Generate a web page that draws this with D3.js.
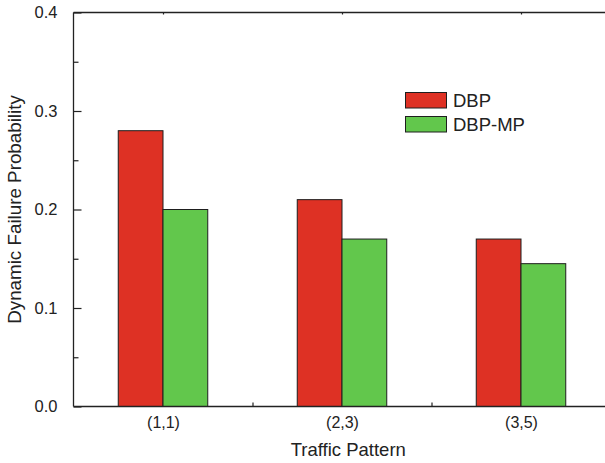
<!DOCTYPE html>
<html>
<head>
<meta charset="utf-8">
<script src="https://cdn.jsdelivr.net/npm/d3@7/dist/d3.min.js"></script>
<style>
  html, body { margin: 0; padding: 0; background: #fff; }
  svg { display: block; font-family: "Liberation Sans", Arial, sans-serif; }
</style>
</head>
<body>
<svg id="chart" width="605" height="463"></svg>
<script>
// Data
const categories = ["(1,1)", "(2,3)", "(3,5)"];
const seriesNames = ["DBP", "DBP-MP"];
const dbp = [0.28, 0.21, 0.17];
const dbpMp = [0.20, 0.17, 0.145];
const yTicks = [0.0, 0.1, 0.2, 0.3, 0.4];
const yMinorTicks = [0.05, 0.15, 0.25, 0.35];
const seriesColors = ["#de3124", "#62c74c"];

const svg = d3.select("#chart");
const plotLeft = 73.5, plotRight = 610.5, plotTop = 12.5, plotBottom = 406.5;

// Category positions are 1, 2, 3 on a continuous axis from 0.5 to 3.5
const x = d3.scaleLinear().domain([0.5, 3.5]).range([plotLeft, plotRight]);
const y = d3.scaleLinear().domain([0, 0.4]).range([plotBottom, plotTop]);
const barW = 0.25;

const series = [dbp, dbpMp];

// Bars
series.forEach((vals, si) => {
  svg.append("g").selectAll("rect")
    .data(vals)
    .join("rect")
    .attr("x", (d, i) => x(i + 1 - barW + si * barW))
    .attr("width", (d, i) => x(i + 1 + si * barW) - x(i + 1 - barW + si * barW))
    .attr("y", d => y(d))
    .attr("height", d => y(0) - y(d))
    .attr("fill", seriesColors[si])
    .attr("stroke", "#1e1e1e")
    .attr("stroke-width", 1);
});

// Frame
const frame = svg.append("g").attr("stroke", "#222").attr("stroke-width", 1.3).attr("fill", "none");
frame.append("line").attr("x1", plotLeft).attr("x2", plotRight).attr("y1", plotTop).attr("y2", plotTop);
frame.append("line").attr("x1", plotLeft).attr("x2", plotRight).attr("y1", plotBottom).attr("y2", plotBottom);
frame.append("line").attr("x1", plotLeft).attr("x2", plotLeft).attr("y1", plotTop).attr("y2", plotBottom);
frame.append("line").attr("x1", plotRight).attr("x2", plotRight).attr("y1", plotTop).attr("y2", plotBottom);

// Y axis (ticks point inward)
const yAxis = d3.axisLeft(y).tickValues(yTicks).tickFormat(d3.format(".1f")).tickSize(-8).tickPadding(16);
const gy = svg.append("g").attr("transform", `translate(${plotLeft},0)`).call(yAxis);
gy.select(".domain").remove();
gy.selectAll(".tick line").attr("stroke", "#222").attr("stroke-width", 1.2);
gy.selectAll(".tick text").attr("font-size", 16.5).attr("fill", "#222")
  .attr("font-family", "'Liberation Sans', Arial, sans-serif");

const yMinor = d3.axisLeft(y).tickValues(yMinorTicks).tickFormat("").tickSize(-5);
const gym = svg.append("g").attr("transform", `translate(${plotLeft},0)`).call(yMinor);
gym.select(".domain").remove();
gym.selectAll(".tick line").attr("stroke", "#222").attr("stroke-width", 1.2);

// X axis: labels at category centers, small inward ticks between categories
const xAxis = d3.axisBottom(x).tickValues([1, 2, 3]).tickFormat((d, i) => categories[i]).tickSize(0).tickPadding(10);
const gx = svg.append("g").attr("transform", `translate(0,${plotBottom})`).call(xAxis);
gx.select(".domain").remove();
gx.selectAll(".tick text").attr("font-size", 16).attr("fill", "#222")
  .attr("font-family", "'Liberation Sans', Arial, sans-serif");

const xMinor = d3.axisBottom(x).tickValues([1.5, 2.5]).tickFormat("").tickSize(-4);
const gxm = svg.append("g").attr("transform", `translate(0,${plotBottom})`).call(xMinor);
gxm.select(".domain").remove();
gxm.selectAll(".tick line").attr("stroke", "#222").attr("stroke-width", 1.2);

// Top axis small ticks at category centers
const xTop = d3.axisTop(x).tickValues([1, 2, 3]).tickFormat("").tickSize(-2);
const gxt = svg.append("g").attr("transform", `translate(0,${plotTop})`).call(xTop);
gxt.select(".domain").remove();
gxt.selectAll(".tick line").attr("stroke", "#222").attr("stroke-width", 1.2);

// Axis titles
svg.append("text")
  .attr("x", (plotLeft + 605) / 2 + 9).attr("y", 456)
  .attr("text-anchor", "middle").attr("font-size", 18.5).attr("fill", "#222")
  .text("Traffic Pattern");

svg.append("text")
  .attr("transform", `translate(21,${(plotTop + plotBottom) / 2}) rotate(-90)`)
  .attr("text-anchor", "middle").attr("font-size", 18.8).attr("fill", "#222")
  .text("Dynamic Failure Probability");

// Legend
const legend = svg.append("g").attr("transform", "translate(405,92)");
seriesNames.forEach((name, i) => {
  const g = legend.append("g").attr("transform", `translate(0,${i * 24})`);
  g.append("rect").attr("x", 0.5).attr("y", 0.5).attr("width", 41).attr("height", 15.5)
    .attr("fill", seriesColors[i]).attr("stroke", "#1e1e1e").attr("stroke-width", 1);
  g.append("text").attr("x", 48).attr("y", 15).attr("font-size", 18.5).attr("fill", "#222").text(name);
});
</script>
</body>
</html>
